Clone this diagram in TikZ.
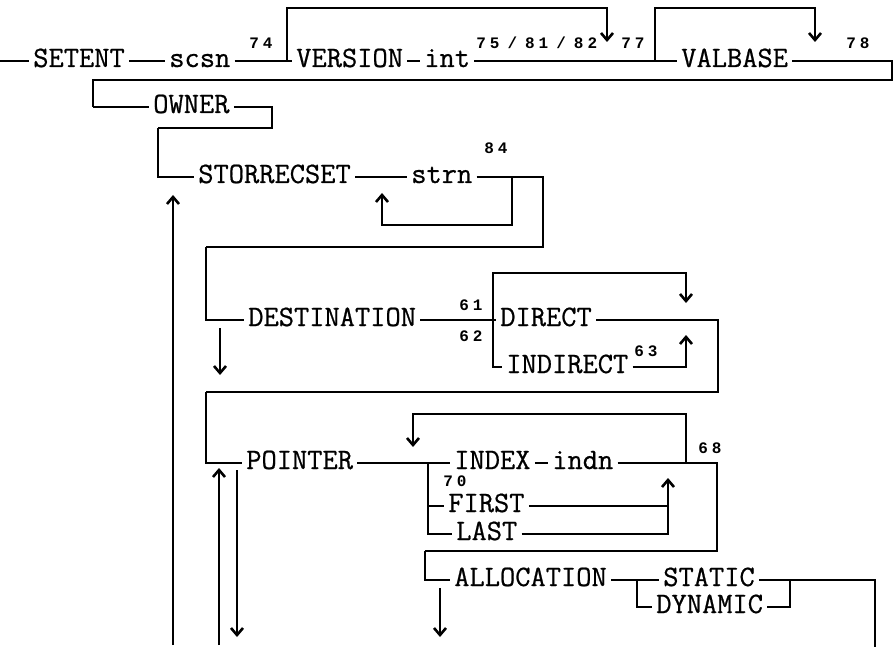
\documentclass[tikz,border=0pt]{standalone}
\usepackage{fontspec}
\newfontfamily\kwfam[FakeBold=0.7]{Latin Modern Mono}
\newfontfamily\numfam{Liberation Mono}
\usetikzlibrary{arrows.meta}
\newcommand{\kwfont}{\fontsize{14.8}{16}\selectfont\kwfam}
\newcommand{\numfont}{\fontsize{8}{9}\selectfont\numfam\bfseries}

\begin{document}
\begin{tikzpicture}[x=0.5pt,y=-0.5pt,line width=1.3pt,>={Straight Barb[length=3.5pt,width=6pt]},
        kw/.style={font=\kwfont, inner xsep=1.5pt, inner ysep=0pt, text height=6pt, text depth=0pt, anchor=west},
        num/.style={font=\numfont, inner sep=0pt, anchor=base west}]
        \useasboundingbox (0,0) rectangle (895,647);

        \coordinate (in) at (0,61);
        \node (setent) [kw] at (29,61) {SETENT};
        \node (scsn) [kw] at (165,61) {scsn};
        \node (version) [kw] at (292,61) {VERSION};
        \node (int) [kw] at (420,61) {int};
        \node (valbase) [kw] at (677,61) {VALBASE};
        \coordinate (v1) at (287,61);
        \coordinate (t1) at (607,8);
        \coordinate (t1e) at (607,42);
        \coordinate (v2) at (655,61);
        \coordinate (t2) at (815,8);
        \coordinate (t2e) at (815,42);
        \coordinate (rend) at (892,61);
        \coordinate (r1) at (892,80);
        \coordinate (l1) at (93,107);
        \node (n74) [num] at (248,49) {7\kern2pt4};
        \node (n75) [num] at (475,49) {7\kern2pt5\kern4pt/\kern4pt8\kern2pt1\kern4pt/\kern4pt8\kern2pt2};
        \node (n77) [num] at (620,49) {7\kern2pt7};
        \node (n78) [num] at (845,49) {7\kern2pt8};

        \draw (in) -- (setent) -- (scsn) -- (version) -- (int) -- (valbase) -- (rend) -- (r1) -| (l1);
        \draw[->] (v1) |- (t1) -- (t1e);
        \draw[->] (v2) |- (t2) -- (t2e);

        \node (owner) [kw] at (149,107) {OWNER};
        \coordinate (o1) at (272,107);
        \coordinate (o2) at (158,128);
        \draw (l1) -- (owner) -- (o1) |- (o2);

        \node (storrecset) [kw] at (194,177) {STORRECSET};
        \node (strn) [kw] at (407,177) {strn};
        \node (n84) [num] at (483,154) {8\kern2pt4};
        \coordinate (s1) at (543,177);
        \coordinate (s2) at (206,247);
        \coordinate (s3) at (512,177);
        \coordinate (s4) at (382,225);
        \coordinate (s4e) at (382,193);
        \coordinate (u1) at (173,645);
        \coordinate (u1e) at (173,195);
        \draw (o2) |- (storrecset) -- (strn) -- (s1) |- (s2);
        \draw[->] (s3) |- (s4) -- (s4e);
        \draw[->] (u1) -- (u1e);

        \node (dest) [kw] at (244,320) {DESTINATION};
        \node (direct) [kw] at (496,320) {DIRECT};
        \node (indirect) [kw] at (502,367) {INDIRECT};
        \node (n61) [num] at (458,310) {6\kern2pt1};
        \node (n62) [num] at (458,341) {6\kern2pt2};
        \node (n63) [num] at (633,356) {6\kern2pt3};
        \coordinate (d1) at (493,320);
        \coordinate (d2) at (718,320);
        \coordinate (d3) at (206,392);
        \coordinate (d4) at (493,273);
        \coordinate (d5e) at (686,303);
        \coordinate (d6e) at (686,335);
        \coordinate (d7) at (220,328);
        \coordinate (d7e) at (220,375);
        \draw (s2) |- (dest) -- (d1) -- (direct) -- (d2) |- (d3);
        \draw (d1) |- (indirect);
        \draw[->] (d1) -- (d4) -| (d5e);
        \draw[->] (indirect) -| (d6e);
        \draw[->] (d7) -- (d7e);

        \node (pointer) [kw] at (242,463) {POINTER};
        \node (index) [kw] at (450,463) {INDEX};
        \node (indn) [kw] at (548,463) {indn};
        \node (first) [kw] at (444,506) {FIRST};
        \node (last) [kw] at (452,534) {LAST};
        \node (n68) [num] at (697,453) {6\kern2pt8};
        \node (n70) [num] at (442,486) {7\kern2pt0};
        \coordinate (p1) at (428,463);
        \coordinate (p2) at (717,463);
        \coordinate (p3) at (425,551);
        \coordinate (p4) at (686,463);
        \coordinate (p5) at (413,414);
        \coordinate (p5e) at (413,447);
        \coordinate (p6) at (428,506);
        \coordinate (f1) at (668,506);
        \coordinate (p7e) at (668,478);
        \coordinate (p8) at (219,645);
        \coordinate (p8e) at (219,468);
        \coordinate (p9) at (237,470);
        \coordinate (p9e) at (237,637);
        \draw (d3) |- (pointer) -- (index) -- (indn) -- (p2) |- (p3);
        \draw[->] (p4) |- (p5) -- (p5e);
        \draw (p1) |- (last);
        \draw (p6) -- (first) -- (f1);
        \draw[->] (last) -| (p7e);
        \draw[->] (p8) -- (p8e);
        \draw[->] (p9) -- (p9e);

        \node (alloc) [kw] at (450,580) {ALLOCATION};
        \node (static) [kw] at (659,580) {STATIC};
        \node (dynamic) [kw] at (652,607) {DYNAMIC};
        \coordinate (a1) at (875,580);
        \coordinate (a1e) at (875,647);
        \coordinate (a2) at (637,580);
        \coordinate (a3) at (790,580);
        \coordinate (a4) at (440,588);
        \coordinate (a4e) at (440,637);
        \draw (p3) |- (alloc) -- (static) -- (a1) -- (a1e);
        \draw (a2) |- (dynamic) -| (a3);
        \draw[->] (a4) -- (a4e);
    \end{tikzpicture}
\end{document}
